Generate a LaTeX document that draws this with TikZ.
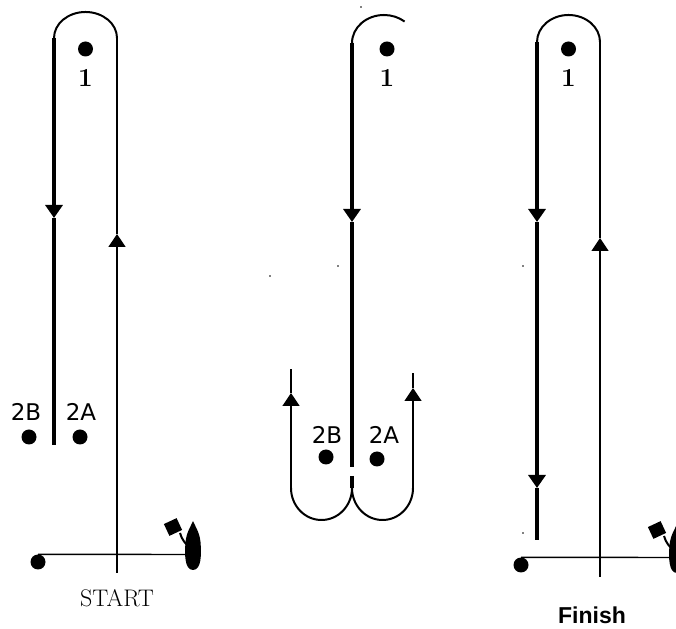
\documentclass[tikz,border=0pt]{standalone}
\usepackage{fontspec}
\newfontfamily\marksans{DejaVu Sans}
\newfontfamily\finishsans{Liberation Sans}
\usetikzlibrary{positioning, calc, arrows.meta}
\tikzset{buoy/.style={circle, fill=black, inner sep=0pt, minimum size=15pt}}
\tikzset{speck/.style={circle, fill=black, inner sep=0pt, minimum size=1.8pt}}
\tikzset{leg/.style={line width=3.2pt}}
\tikzset{ret/.style={line width=1.4pt}}
\tikzset{turn/.style={line width=2pt}}
\tikzstyle{dirtip}=[-{Triangle[width=17pt, length=13pt]}]
\tikzset{numlbl/.style={font=\bfseries\fontsize{26}{26}\selectfont, inner sep=0pt}}
\tikzset{twolbl/.style={font=\marksans\fontsize{23}{23}\selectfont, inner sep=0pt}}
\tikzset{boat/.pic={
  \fill (0,0) .. controls (-8.5,0) and (-8.5,16) .. (-7.5,28) .. controls (-6.5,38) and (-2,44) .. (0,49)
        .. controls (2,44) and (6.5,38) .. (7.5,28) .. controls (8.5,16) and (8.5,0) .. (0,0);
  \draw[line width=2pt] (-3,22) .. controls (-8,27) and (-11,30) .. (-13,37);
  \fill[rotate around={25:(-20,43)}] (-27,36.5) rectangle (-13,49.5);
}}

\begin{document}
\begin{tikzpicture}[x=1pt, y=1pt]
  \fill[white] (0,0) rectangle (676,628);
  \useasboundingbox (0,0) rectangle (676,628);

  % start
  \node[buoy] (L1) at (85.5,579) {};
  \node[numlbl] (L1lbl) at (85.5,550) {1};
  \coordinate (Lturn) at (54,590);
  \coordinate (Rturn) at (117,590);
  \coordinate (Ldown) at (54,410);
  \coordinate (Lend) at (54,183);
  \coordinate (Lline) at (117,55);
  \coordinate (Lup) at (117,394);
  \draw[ret, dirtip] (Lline) -- (Lup);
  \draw[ret] (Lup) -- (Rturn);
  \draw[turn] (Rturn) arc[start angle=0, end angle=180, x radius=31.5, y radius=26];
  \draw[leg, dirtip] (Lturn) -- (Ldown);
  \draw[leg] (Ldown) -- (Lend);
  \node[buoy] (L2B) at (29,191) {};
  \node[buoy] (L2A) at (80,191) {};
  \node[twolbl] at (26,216) {2B};
  \node[twolbl] at (81,216) {2A};
  \node[buoy] (Lpin) at (38,66) {};
  \coordinate (Lboat) at (188,73.5);
  \draw[ret] (Lpin.north) -- (Lboat);
  \pic at (193,58) {boat};
  \node[font=\fontsize{24}{24}\selectfont, inner sep=0pt, below=16pt of Lline] (start) {START};

  % middle
  \node[buoy] (M1) at (387,579) {};
  \node[numlbl] (M1lbl) at (387,550) {1};
  \coordinate (Mtop) at (352,585);
  \coordinate (Mdown) at (352,406);
  \coordinate (Mgap) at (352,161);
  \coordinate (Mstub) at (352,152);
  \coordinate (Mcusp) at (352,140);
  \draw[turn] (Mtop) arc[start angle=180, end angle=50, x radius=32, y radius=28];
  \draw[leg, dirtip] (Mtop) -- (Mdown);
  \draw[leg] (Mdown) -- (Mgap);
  \draw[leg] (Mstub) -- (Mcusp);
  \coordinate (MBin) at (291,140);
  \coordinate (MBup) at (291,235);
  \coordinate (MBend) at (291,259);
  \coordinate (MAin) at (413,140);
  \coordinate (MAup) at (413,240);
  \coordinate (MAend) at (413,255);
  \draw[turn] (Mcusp) arc[start angle=0, end angle=-180, x radius=30.5, y radius=32];
  \draw[turn] (Mcusp) arc[start angle=180, end angle=360, x radius=30.5, y radius=32];
  \draw[ret, dirtip] (MBin) -- (MBup);
  \draw[ret] (MBup) -- (MBend);
  \draw[ret, dirtip] (MAin) -- (MAup);
  \draw[ret] (MAup) -- (MAend);
  \node[buoy] (M2B) at (326,171) {};
  \node[buoy] (M2A) at (377,169) {};
  \node[twolbl] at (327,193) {2B};
  \node[twolbl] at (384,193) {2A};
  \node[speck] at (361,621) {};
  \node[speck] at (338,362) {};
  \node[speck] at (270,352) {};

  % finish
  \node[buoy] (F1) at (568.5,579) {};
  \node[numlbl] (F1lbl) at (568.5,550) {1};
  \coordinate (Fturn) at (537,586);
  \coordinate (Frturn) at (600,586);
  \coordinate (Fdown) at (537,406);
  \coordinate (Flow) at (537,140);
  \coordinate (Fend) at (537,88);
  \coordinate (Fline) at (600,51);
  \coordinate (Fup) at (600,390);
  \draw[turn] (Frturn) arc[start angle=0, end angle=180, x radius=31.5, y radius=27];
  \draw[leg, dirtip] (Fturn) -- (Fdown);
  \draw[leg, dirtip] (Fdown) -- (Flow);
  \draw[leg] (Flow) -- (Fend);
  \draw[ret, dirtip] (Fline) -- (Fup);
  \draw[ret] (Fup) -- (Frturn);
  \node[buoy] (Fpin) at (521,63) {};
  \coordinate (Fboat) at (676,70.5);
  \draw[ret] (Fpin.north) -- (Fboat);
  \pic at (677,55) {boat};
  \node[speck] at (523,362) {};
  \node[speck] at (523,95) {};
  \node[font=\finishsans\bfseries\fontsize{23}{23}\selectfont, inner sep=0pt] (finish) at (592,12.5) {Finish};
\end{tikzpicture}
\end{document}
